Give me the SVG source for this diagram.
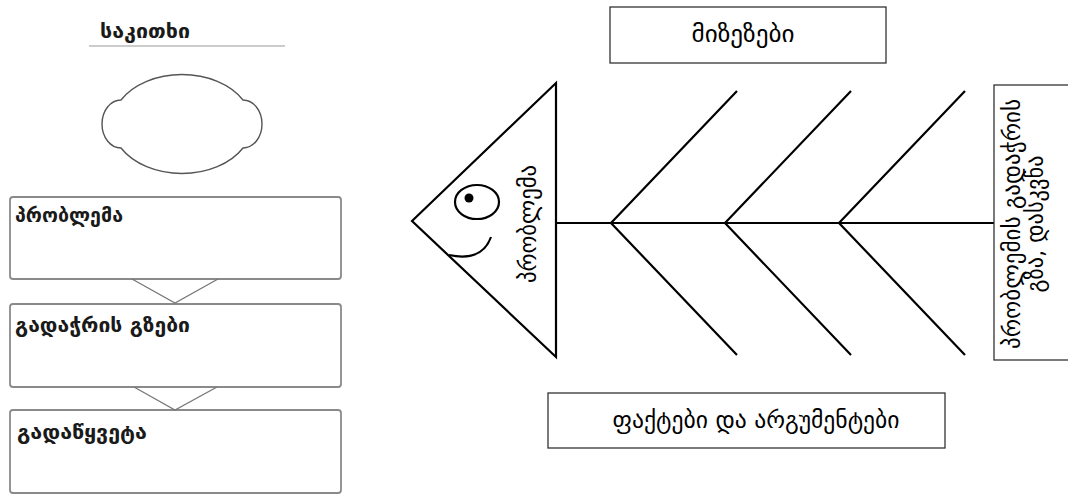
<svg xmlns="http://www.w3.org/2000/svg" width="1068" height="495" viewBox="0 0 1068 495">
<style>
.lbox{fill:#fff;stroke:#8a8a8a;stroke-width:1.8}
.ltxt{font-family:"DejaVu Sans",sans-serif;font-weight:bold;font-size:19px;fill:#1a1a1a}
.chev{fill:none;stroke:#777;stroke-width:1.3}
.rbox{fill:#fff;stroke:#333;stroke-width:1.3}
.rtxt{font-family:"DejaVu Sans",sans-serif;font-size:23px;fill:#000}
.bone{fill:none;stroke:#000;stroke-width:2.2}
</style>
<rect width="1068" height="495" fill="#fff"/>
<g id="title">
<text class="ltxt" x="100" y="38" textLength="90" lengthAdjust="spacingAndGlyphs">საკითხი</text>
<line x1="89" y1="46" x2="285" y2="46" stroke="#999" stroke-width="1"/>
</g>
<g id="cloud">
<path d="M121,100 A70,50 0 0 1 243,100 A19,24 0 0 1 243,148 A70,50 0 0 1 121,148 A19,24 0 0 1 121,100 Z" fill="none" stroke="#555" stroke-width="1.4"/>
</g>
<g id="box-problem">
<rect class="lbox" x="10" y="197" width="331" height="82" rx="3"/>
<text class="ltxt" x="15" y="222" textLength="108" lengthAdjust="spacingAndGlyphs">პრობლემა</text>
</g>
<g id="box-ways">
<rect class="lbox" x="10" y="304" width="331" height="83" rx="3"/>
<text class="ltxt" x="15" y="332" textLength="175" lengthAdjust="spacingAndGlyphs">გადაჭრის გზები</text>
</g>
<g id="box-solution">
<rect class="lbox" x="10" y="410" width="331" height="83" rx="3"/>
<text class="ltxt" x="17" y="439" textLength="130" lengthAdjust="spacingAndGlyphs">გადაწყვეტა</text>
</g>
<g id="connectors">
<polyline class="chev" points="132,279 175,303 218,279"/>
<polyline class="chev" points="134,387 175,410 217,387"/>
<line class="bone" x1="556" y1="223" x2="994" y2="223"/>
<polyline class="bone" points="737,91 611,223 737,355"/>
<polyline class="bone" points="851,91 725,223 851,355"/>
<polyline class="bone" points="965,91 839,223 965,355"/>
</g>
<g id="fish-head">
<polygon points="412,221 556,83 556,357" fill="#fff" stroke="#000" stroke-width="2.2" stroke-linejoin="miter"/>
<ellipse cx="477" cy="202" rx="22" ry="17" fill="none" stroke="#000" stroke-width="2.2"/>
<circle cx="469" cy="198" r="4.5" fill="#000"/>
<path d="M449,255 Q482,262 491,237" fill="none" stroke="#000" stroke-width="2.2"/>
<text class="rtxt" transform="translate(528,224) rotate(-90)" x="0" y="8" text-anchor="middle" textLength="118" lengthAdjust="spacingAndGlyphs">პრობლემა</text>
</g>
<g id="box-causes">
<rect class="rbox" x="610" y="7" width="276" height="56"/>
<text class="rtxt" x="743" y="42" text-anchor="middle" textLength="103" lengthAdjust="spacingAndGlyphs">მიზეზები</text>
</g>
<g id="box-facts">
<rect class="rbox" x="548" y="393" width="397" height="55"/>
<text class="rtxt" x="756" y="428" text-anchor="middle" textLength="287" lengthAdjust="spacingAndGlyphs">ფაქტები და არგუმენტები</text>
</g>
<g id="box-conclusion">
<rect class="rbox" x="994" y="85" width="90" height="275"/>
<text class="rtxt" transform="translate(1027,224) rotate(-90)" text-anchor="middle" font-size="22"><tspan x="0" y="-7" textLength="250" lengthAdjust="spacingAndGlyphs">პრობლემის გადაჭრის</tspan><tspan x="0" y="16" textLength="137" lengthAdjust="spacingAndGlyphs">გზა, დასკვნა</tspan></text>
</g>
</svg>
